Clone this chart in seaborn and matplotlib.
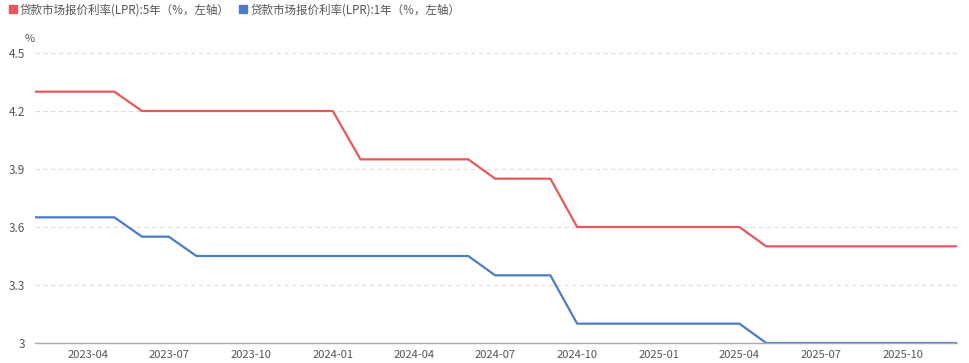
import matplotlib
matplotlib.use("Agg")
import matplotlib.pyplot as plt
import matplotlib.dates as mdates
from matplotlib.lines import Line2D
import seaborn as sns
import pandas as pd

months = pd.date_range("2023-02-01", "2025-12-01", freq="MS")
lpr_5y = [4.30, 4.30, 4.30, 4.30, 4.20, 4.20, 4.20, 4.20, 4.20, 4.20, 4.20, 4.20,
          3.95, 3.95, 3.95, 3.95, 3.95, 3.85, 3.85, 3.85, 3.60, 3.60, 3.60, 3.60,
          3.60, 3.60, 3.60, 3.50, 3.50, 3.50, 3.50, 3.50, 3.50, 3.50, 3.50]
lpr_1y = [3.65, 3.65, 3.65, 3.65, 3.55, 3.55, 3.45, 3.45, 3.45, 3.45, 3.45, 3.45,
          3.45, 3.45, 3.45, 3.45, 3.45, 3.35, 3.35, 3.35, 3.10, 3.10, 3.10, 3.10,
          3.10, 3.10, 3.10, 3.00, 3.00, 3.00, 3.00, 3.00, 3.00, 3.00, 3.00]
label_5y = "贷款市场报价利率(LPR):5年（%，左轴）"
label_1y = "贷款市场报价利率(LPR):1年（%，左轴）"
yticks = [3.0, 3.3, 3.6, 3.9, 4.2, 4.5]
ytick_labels = ["3", "3.3", "3.6", "3.9", "4.2", "4.5"]
xtick_dates = pd.date_range("2023-04-01", "2025-10-01", freq="3MS")

RED = "#e8585a"
BLUE = "#4a7cc8"

sns.set_theme(style="white")
plt.rcParams["font.family"] = ["Noto Sans CJK SC", "DejaVu Sans"]

df = pd.DataFrame({"date": months, "5y": lpr_5y, "1y": lpr_1y})

fig = plt.figure(figsize=(9.69, 3.63), dpi=100)
ax = fig.add_axes([35 / 969, 20 / 363, (957 - 35) / 969, (343 - 53) / 363])

sns.lineplot(data=df, x="date", y="5y", ax=ax, color=RED, linewidth=1.6)
sns.lineplot(data=df, x="date", y="1y", ax=ax, color=BLUE, linewidth=1.6)

ax.set_xlim(months[0], months[-1])
ax.set_ylim(3.0, 4.5)
ax.set_yticks(yticks)
ax.set_yticklabels(ytick_labels)
ax.set_xticks(xtick_dates)
ax.xaxis.set_major_formatter(mdates.DateFormatter("%Y-%m"))
ax.set_xlabel("")
ax.set_ylabel("")

for y in yticks[1:]:
    ax.axhline(y, color="#dddddd", linewidth=0.8, linestyle=(0, (4, 3)), zorder=0)

for s in ["top", "right", "left"]:
    ax.spines[s].set_visible(False)
ax.spines["bottom"].set_color("#aaaaaa")
ax.spines["bottom"].set_linewidth(1.0)
ax.tick_params(axis="x", direction="in", length=4, color="#aaaaaa", width=1,
               labelsize=8, labelcolor="#555555", pad=5)
ax.tick_params(axis="y", length=0, labelsize=8.5, labelcolor="#555555", pad=7)

fig.text(30 / 969, 1 - 39 / 363, "%", fontsize=8, color="#555555", ha="center", va="center")

handles = [
    Line2D([0], [0], marker="s", linestyle="none", markersize=6, markerfacecolor=RED,
           markeredgecolor=RED, label=label_5y),
    Line2D([0], [0], marker="s", linestyle="none", markersize=6, markerfacecolor=BLUE,
           markeredgecolor=BLUE, label=label_1y),
]
fig.legend(handles=handles, loc="upper left", bbox_to_anchor=(0.0, 1.01), ncol=2,
           frameon=False, fontsize=8.3, labelcolor="#555555", handletextpad=0.1,
           columnspacing=0.7, borderaxespad=0.2, handlelength=1.0)

fig.savefig("out.png", dpi=100)
